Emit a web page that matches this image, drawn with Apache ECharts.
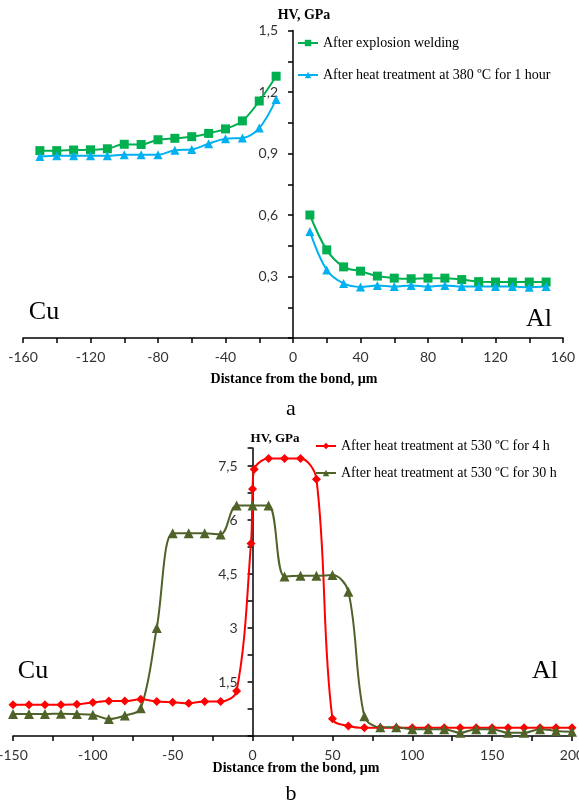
<!DOCTYPE html>
<html>
<head>
<meta charset="utf-8">
<script src="https://cdn.jsdelivr.net/npm/echarts@6/dist/echarts.min.js"></script>
<style>
  html, body { margin: 0; padding: 0; background: #fff; }
  #chart { width: 579px; height: 803px; }
</style>
</head>
<body>
<div id="chart"></div>
<script>
// --- chart a: explosion welded Cu/Al ---
const distCuA = [-150, -140, -130, -120, -110, -100, -90, -80, -70, -60, -50, -40, -30, -20, -10]
const distAlA = [10, 20, 30, 40, 50, 60, 70, 80, 90, 100, 110, 120, 130, 140, 150]
const weldCu = [0.914, 0.914, 0.917, 0.918, 0.923, 0.945, 0.944, 0.967, 0.974, 0.982, 0.998, 1.02, 1.059, 1.156, 1.277]
const weldAl = [0.60, 0.43, 0.347, 0.326, 0.302, 0.292, 0.289, 0.292, 0.292, 0.285, 0.275, 0.273, 0.273, 0.273, 0.273]
const heat380Cu = [0.885, 0.889, 0.889, 0.889, 0.889, 0.894, 0.894, 0.894, 0.916, 0.92, 0.948, 0.972, 0.976, 1.024, 1.164]
const heat380Al = [0.519, 0.332, 0.266, 0.249, 0.256, 0.251, 0.256, 0.251, 0.256, 0.251, 0.251, 0.251, 0.251, 0.247, 0.251]

// --- chart b: heat treatment at 530 C ---
const dist4h = [-150, -140, -130, -120, -110, -100, -90, -80, -70, -60, -50, -40, -30, -20, -10, -1, 0, 1, 10, 20, 30, 40, 50, 60, 70, 80, 90, 100, 110, 120, 130, 140, 150, 160, 170, 180, 190, 200]
const hv4h = [0.87, 0.87, 0.87, 0.87, 0.88, 0.93, 0.97, 0.97, 1.02, 0.96, 0.94, 0.91, 0.96, 0.96, 1.25, 5.35, 6.86, 7.41, 7.71, 7.71, 7.71, 7.13, 0.48, 0.28, 0.23, 0.23, 0.23, 0.23, 0.23, 0.23, 0.23, 0.23, 0.23, 0.23, 0.23, 0.23, 0.23, 0.23]
const dist30h = [-150, -140, -130, -120, -110, -100, -90, -80, -70, -60, -50, -40, -30, -20, -10, 0, 10, 20, 30, 40, 50, 60, 70, 80, 90, 100, 110, 120, 130, 140, 150, 160, 170, 180, 190, 200]
const hv30h = [0.61, 0.61, 0.61, 0.62, 0.61, 0.59, 0.47, 0.57, 0.77, 3.0, 5.63, 5.63, 5.63, 5.6, 6.4, 6.4, 6.4, 4.43, 4.45, 4.45, 4.47, 4.01, 0.55, 0.24, 0.24, 0.19, 0.19, 0.19, 0.09, 0.19, 0.19, 0.09, 0.09, 0.19, 0.14, 0.12]

const names = [
  'After explosion welding',
  'After heat treatment at 380 ºC for 1 hour',
  'After heat treatment at 530 ºC for 4 h',
  'After heat treatment at 530 ºC for 30 h'
]

const pairs = (xs, ys) => xs.map((x, i) => [x, ys[i]])
// break the line at the bond
const split = (xl, yl, xr, yr) => pairs(xl, yl).concat([[0, '-']], pairs(xr, yr))
const isStep = (v, step) => Math.abs(v / step - Math.round(v / step)) < 1e-6
const comma = (v) => String(+v.toFixed(2)).replace('.', ',')

const tickFont = { fontFamily: 'Lato', fontSize: 14, color: '#333' }
const lineStyle = { color: '#000', width: 1.5 }
const axisTick = { show: true, inside: false, length: 5, lineStyle }

// grid boxes (px); the y axis is moved onto x = 0
const gridA = { left: 23, right: 16, top: 30.5, bottom: 465 }
const gridB = { left: 13, right: 7, top: 448, bottom: 67 }
const zeroShift = (g, min, max) => -(0 - min) / (max - min) * (579 - g.left - g.right)

function xAxisOf(grid, min, max, step, labelStep) {
  return {
    type: 'value', gridIndex: grid, min, max, interval: step,
    axisLine: { onZero: false, lineStyle }, axisTick, splitLine: { show: false },
    axisLabel: Object.assign({ margin: 12, formatter: (v) => (isStep(v, labelStep) ? String(v) : '') }, tickFont)
  }
}
function yAxisOf(grid, max, step, labelStep, offset) {
  return {
    type: 'value', gridIndex: grid, min: 0, max, interval: step, position: 'left', offset,
    axisLine: { onZero: false, lineStyle }, axisTick, splitLine: { show: false },
    axisLabel: Object.assign({ margin: 15, formatter: (v) => (v > 0 && isStep(v, labelStep) ? comma(v) : '') }, tickFont)
  }
}
function lineOf(name, grid, data, color, symbol, size) {
  return {
    name, type: 'line', xAxisIndex: grid, yAxisIndex: grid, data,
    smooth: 0.35, symbol, symbolSize: size, showSymbol: true,
    lineStyle: { color, width: 2 }, itemStyle: { color },
    connectNulls: false, animation: false
  }
}
function legendOf(name, left, top) {
  return {
    data: [name], left, top, orient: 'vertical', itemWidth: 20, itemHeight: 8, padding: 0,
    textStyle: { fontFamily: 'Liberation Serif', fontSize: 14, color: '#000', lineHeight: 16 }
  }
}
function text(str, x, y, font) {
  return { type: 'text', x, y, style: { text: str, font, fill: '#000', align: 'center', verticalAlign: 'middle' } }
}

const serif = 'Liberation Serif'
const option = {
  backgroundColor: '#fff',
  animation: false,
  grid: [
    Object.assign({ outerBoundsMode: 'none' }, gridA),
    Object.assign({ outerBoundsMode: 'none' }, gridB)
  ],
  xAxis: [xAxisOf(0, -160, 160, 20, 40), xAxisOf(1, -150, 200, 25, 50)],
  yAxis: [
    yAxisOf(0, 1.5, 0.15, 0.3, zeroShift(gridA, -160, 160)),
    yAxisOf(1, 8, 0.75, 1.5, zeroShift(gridB, -150, 200))
  ],
  legend: [
    legendOf(names[0], 297, 35),
    legendOf(names[1], 297, 67),
    legendOf(names[2], 315, 438),
    legendOf(names[3], 315, 465)
  ],
  series: [
    lineOf(names[0], 0, split(distCuA, weldCu, distAlA, weldAl), '#00b050', 'rect', 9),
    lineOf(names[1], 0, split(distCuA, heat380Cu, distAlA, heat380Al), '#00b0f0', 'triangle', 9),
    lineOf(names[2], 1, pairs(dist4h, hv4h), '#ff0000', 'diamond', 9),
    lineOf(names[3], 1, pairs(dist30h, hv30h), '#4f6228', 'triangle', 10)
  ],
  graphic: [
    text('HV, GPa', 304, 15, 'bold 14px ' + serif),
    text('Distance from the bond, µm', 294, 379, 'bold 14px ' + serif),
    text('a', 291, 409, '22px ' + serif),
    text('Cu', 44, 312, '26px ' + serif),
    text('Al', 539, 319, '26px ' + serif),
    text('HV, GPa', 275, 439, 'bold 13px ' + serif),
    text('Distance from the bond, µm', 296, 768, 'bold 14px ' + serif),
    text('b', 291, 794, '22px ' + serif),
    text('Cu', 33, 671, '26px ' + serif),
    text('Al', 545, 671, '26px ' + serif)
  ]
}

const chart = echarts.init(document.getElementById('chart'), null, { renderer: 'canvas' })
chart.setOption(option)
</script>
</body>
</html>
